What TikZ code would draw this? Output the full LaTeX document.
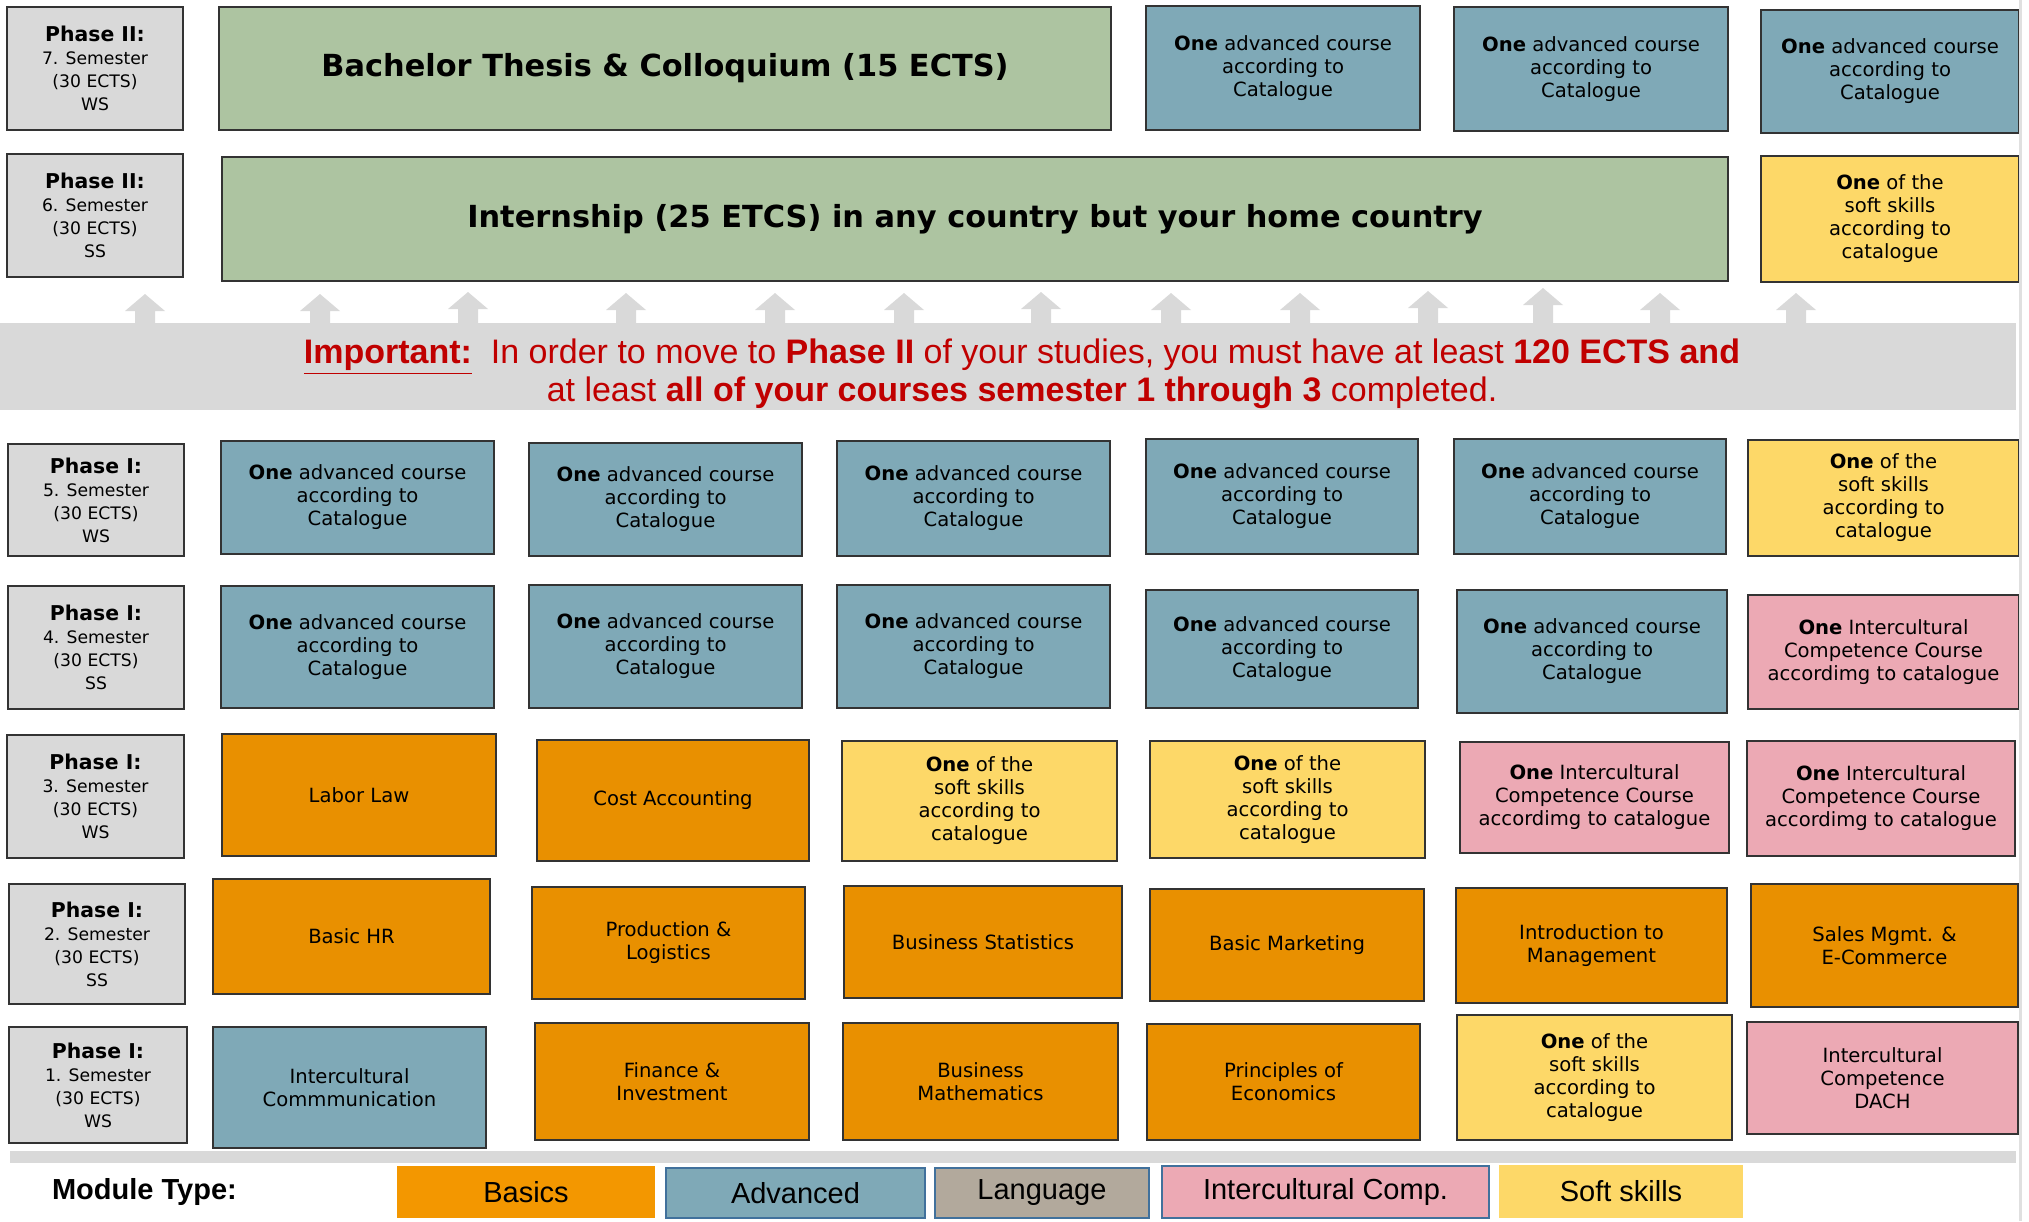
\documentclass[tikz,border=0pt]{standalone}
\usepackage{fontspec}
\setmainfont{DejaVu Sans}
\newfontfamily\arialfont{Liberation Sans}

\definecolor{semgray}{RGB}{217,217,217}
\definecolor{bandgray}{RGB}{217,217,217}
\definecolor{thesisgreen}{RGB}{173,196,161}
\definecolor{advblue}{RGB}{127,169,183}
\definecolor{basicorange}{RGB}{233,144,0}
\definecolor{legendorange}{RGB}{243,151,0}
\definecolor{softyellow}{RGB}{253,216,104}
\definecolor{icpink}{RGB}{236,169,180}
\definecolor{langtaupe}{RGB}{178,169,156}
\definecolor{legendblue}{RGB}{65,113,156}
\definecolor{notered}{RGB}{192,0,0}

\tikzset{
  cell/.style={draw=black!80, line width=0.7pt, inner sep=0pt, outer sep=0pt,
    align=center, anchor=north west, font=\fontsize{9.8}{11.5}\selectfont},
  sem/.style={cell, fill=semgray, font=\fontsize{8.6}{11.5}\selectfont},
  thesis/.style={cell, fill=thesisgreen, font=\bfseries\fontsize{15.2}{18}\selectfont},
  adv/.style={cell, fill=advblue},
  basic/.style={cell, fill=basicorange},
  soft/.style={cell, fill=softyellow},
  ic/.style={cell, fill=icpink},
  legend/.style={inner sep=0pt, outer sep=0pt, anchor=north west,
    font=\arialfont\fontsize{14.5}{17}\selectfont},
  upshape/.style={fill=bandgray}
}

% box from its upper left to its lower right corner, in pixels
\newcommand{\modbox}[7]{%
  \node[#2, minimum width={(#5-#3)*0.5pt}, minimum height={(#6-#4)*0.5pt}] (#1) at (#3,#4) {#7};}
\newcommand{\phase}[1]{{\fontsize{10.2}{11.5}\selectfont\textbf{#1}}}
\newcommand{\advtext}{\textbf{One} advanced course\\according to\\Catalogue}
\newcommand{\softtext}{\textbf{One} of the\\soft skills\\according to\\catalogue}
\newcommand{\ictext}{\textbf{One} Intercultural\\Competence Course\\accordimg to catalogue}

\begin{document}
\begin{tikzpicture}[x=0.5pt, y=-0.5pt]
  \useasboundingbox (0,0) rectangle (2029,1221);

  % semester 7
  \modbox{s7}{sem}{7}{7}{183}{130}{\phase{Phase II:}\\7. Semester\\(30 ECTS)\\WS}
  \modbox{thesis}{thesis}{219}{7}{1111}{130}{Bachelor Thesis \& Colloquium (15 ECTS)}
  \modbox{r7c4}{adv}{1146}{6}{1420}{130}{\advtext}
  \modbox{r7c5}{adv}{1454}{7}{1728}{131}{\advtext}
  \modbox{r7c6}{adv}{1761}{10}{2019}{133}{\advtext}

  % semester 6
  \modbox{s6}{sem}{7}{154}{183}{277}{\phase{Phase II:}\\6. Semester\\(30 ECTS)\\SS}
  \modbox{intern}{thesis}{222}{157}{1728}{281}{Internship (25 ETCS) in any country but your home country}
  \modbox{r6c6}{soft}{1761}{156}{2019}{282}{\softtext}

  % arrows into phase II
  \foreach \ax/\tip in {145/294,320/294,468/292,626/293,775/293,904/293,1041/292,
                        1171/293,1300/293,1428/291,1543/288,1660/293,1796/293}
    \fill[upshape] (\ax-10,323) -- (\ax-10,\tip+17) -- (\ax-20,\tip+17) -- (\ax,\tip)
      -- (\ax+20,\tip+17) -- (\ax+10,\tip+17) -- (\ax+10,323) -- cycle;

  \fill[bandgray] (0,323) rectangle (2016,410);
  \node[font=\arialfont\fontsize{17}{17}\selectfont, text=notered, align=center]
    (note) at (1022,374) {\underline{\textbf{Important:}}\ \ In order to move to \textbf{Phase II} of your studies, you must have at least \textbf{120 ECTS and}\\
    at least \textbf{all of your courses semester 1 through 3} completed.};

  % semester 5
  \modbox{s5}{sem}{8}{444}{184}{556}{\phase{Phase I:}\\5. Semester\\(30 ECTS)\\WS}
  \modbox{r5c1}{adv}{221}{441}{494}{554}{\advtext}
  \modbox{r5c2}{adv}{529}{443}{802}{556}{\advtext}
  \modbox{r5c3}{adv}{837}{441}{1110}{556}{\advtext}
  \modbox{r5c4}{adv}{1146}{439}{1418}{554}{\advtext}
  \modbox{r5c5}{adv}{1454}{439}{1726}{554}{\advtext}
  \modbox{r5c6}{soft}{1748}{440}{2019}{556}{\softtext}

  % semester 4
  \modbox{s4}{sem}{8}{586}{184}{709}{\phase{Phase I:}\\4. Semester\\(30 ECTS)\\SS}
  \modbox{r4c1}{adv}{221}{586}{494}{708}{\advtext}
  \modbox{r4c2}{adv}{529}{585}{802}{708}{\advtext}
  \modbox{r4c3}{adv}{837}{585}{1110}{708}{\advtext}
  \modbox{r4c4}{adv}{1146}{590}{1418}{708}{\advtext}
  \modbox{r4c5}{adv}{1457}{590}{1727}{713}{\advtext}
  \modbox{r4c6}{ic}{1748}{595}{2019}{709}{\ictext}

  % semester 3
  \modbox{s3}{sem}{7}{735}{184}{858}{\phase{Phase I:}\\3. Semester\\(30 ECTS)\\WS}
  \modbox{r3c1}{basic}{222}{734}{496}{856}{Labor Law}
  \modbox{r3c2}{basic}{537}{740}{809}{861}{Cost Accounting}
  \modbox{r3c3}{soft}{842}{741}{1117}{861}{\softtext}
  \modbox{r3c4}{soft}{1150}{741}{1425}{858}{\softtext}
  \modbox{r3c5}{ic}{1460}{742}{1729}{853}{\ictext}
  \modbox{r3c6}{ic}{1747}{741}{2015}{856}{\ictext}

  % semester 2
  \modbox{s2}{sem}{9}{884}{185}{1004}{\phase{Phase I:}\\2. Semester\\(30 ECTS)\\SS}
  \modbox{r2c1}{basic}{213}{879}{490}{994}{Basic HR}
  \modbox{r2c2}{basic}{532}{887}{805}{999}{Production \&\\Logistics}
  \modbox{r2c3}{basic}{844}{886}{1122}{998}{Business Statistics}
  \modbox{r2c4}{basic}{1150}{889}{1424}{1001}{Basic Marketing}
  \modbox{r2c5}{basic}{1456}{888}{1727}{1003}{Introduction to\\Management}
  \modbox{r2c6}{basic}{1751}{884}{2018}{1007}{Sales Mgmt. \&\\E-Commerce}

  % semester 1
  \modbox{s1}{sem}{9}{1027}{187}{1143}{\phase{Phase I:}\\1. Semester\\(30 ECTS)\\WS}
  \modbox{r1c1}{adv}{213}{1027}{486}{1148}{Intercultural\\Commmunication}
  \modbox{r1c2}{basic}{535}{1023}{809}{1140}{Finance \&\\Investment}
  \modbox{r1c3}{basic}{843}{1023}{1118}{1140}{Business\\Mathematics}
  \modbox{r1c4}{basic}{1147}{1024}{1420}{1140}{Principles of\\Economics}
  \modbox{r1c5}{soft}{1457}{1015}{1732}{1140}{\softtext}
  \modbox{r1c6}{ic}{1747}{1022}{2018}{1134}{Intercultural\\Competence\\DACH}

  \fill[bandgray] (10,1151) rectangle (2016,1163);
  \fill[black!12] (2019,0) rectangle (2022,1221);

  % module type legend
  \node[font=\arialfont\bfseries\fontsize{14.5}{17}\selectfont, anchor=west] (keytitle) at (45,1192) {Module Type:};
  \modbox{kbasic}{legend, fill=legendorange}{397}{1166}{655}{1218}{Basics}
  \modbox{kadv}{legend, fill=advblue, draw=legendblue, line width=1.2pt}{666}{1168}{925}{1218}{Advanced}
  \modbox{klang}{legend, fill=langtaupe, draw=legendblue, line width=1.2pt}{935}{1168}{1149}{1218}{Language}
  \modbox{kic}{legend, fill=icpink, draw=legendblue, line width=1.2pt}{1162}{1166}{1489}{1218}{Intercultural Comp.}
  \modbox{ksoft}{legend, fill=softyellow}{1499}{1165}{1743}{1218}{Soft skills}
\end{tikzpicture}
\end{document}
